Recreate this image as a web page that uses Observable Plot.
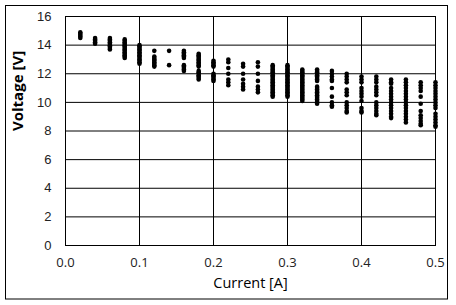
<!DOCTYPE html>
<html>
<head>
<meta charset="utf-8">
<script src="https://cdn.jsdelivr.net/npm/d3@7"></script>
<script src="https://cdn.jsdelivr.net/npm/@observablehq/plot@0.6"></script>
<style>
  html, body { margin: 0; padding: 0; background: #fff; }
  svg { display: block; }
</style>
</head>
<body>
<div id="chart"></div>
<script>
const currents = [0.02, 0.04, 0.06, 0.08, 0.10, 0.12, 0.14, 0.16, 0.18, 0.20, 0.22, 0.24, 0.26,
                  0.28, 0.30, 0.32, 0.34, 0.36, 0.38, 0.40, 0.42, 0.44, 0.46, 0.48, 0.50];
const voltages = [
  [14.9, 14.8, 14.7, 14.6, 14.5],
  [14.5, 14.4, 14.3, 14.2, 14.1],
  [14.5, 14.4, 14.3, 14.2, 14.1, 14.0, 13.9, 13.8, 13.7],
  [14.4, 14.3, 14.2, 14.1, 14.0, 13.9, 13.8, 13.7, 13.6, 13.5, 13.4, 13.3, 13.2, 13.1],
  [14.0, 13.9, 13.8, 13.7, 13.6, 13.5, 13.4, 13.3, 13.2, 13.1, 13.0, 12.9, 12.8, 12.7],
  [13.6, 13.2, 13.1, 13.0, 12.9, 12.8, 12.7, 12.6, 12.5],
  [13.6, 12.6],
  [13.6, 13.5, 13.4, 13.3, 13.2, 13.1, 12.6, 12.5, 12.4, 12.3, 12.2],
  [13.4, 13.3, 13.2, 13.1, 13.0, 12.9, 12.8, 12.7, 12.6, 12.5, 12.2, 12.1, 12.0, 11.9, 11.8, 11.7, 11.6],
  [12.9, 12.8, 12.7, 12.6, 12.5, 12.0, 11.9, 11.8, 11.7, 11.6, 11.5],
  [13.0, 12.8, 12.4, 12.0, 11.6, 11.4, 11.2],
  [12.7, 12.5, 12.0, 11.6, 11.3, 11.1, 10.9],
  [12.8, 12.5, 12.0, 11.5, 11.1, 10.9, 10.7],
  [12.6, 12.5, 12.4, 12.3, 12.2, 12.1, 12.0, 11.9, 11.8, 11.7, 11.6, 11.5, 11.4, 11.3, 11.2, 11.1, 11.0, 10.9, 10.8, 10.7, 10.6, 10.5, 10.4],
  [12.6, 12.5, 12.4, 12.3, 12.2, 12.1, 12.0, 11.9, 11.8, 11.7, 11.6, 11.5, 11.4, 11.3, 11.2, 11.1, 11.0, 10.9, 10.8, 10.7, 10.6, 10.5, 10.4],
  [12.3, 12.2, 12.1, 12.0, 11.9, 11.8, 11.7, 11.6, 11.5, 11.4, 11.3, 11.2, 11.1, 11.0, 10.9, 10.8, 10.7, 10.6, 10.5, 10.4, 10.3, 10.2, 10.1],
  [12.3, 12.2, 12.1, 12.0, 11.9, 11.8, 11.7, 11.6, 11.5, 11.1, 11.0, 10.9, 10.8, 10.7, 10.6, 10.5, 10.4, 10.3, 10.2, 10.1, 10.0, 9.9],
  [12.2, 12.0, 11.8, 11.6, 11.5, 11.0, 10.4, 10.0, 9.8, 9.7],
  [12.0, 11.8, 11.6, 11.4, 10.9, 10.7, 10.5, 10.0, 9.8, 9.6, 9.4, 9.3],
  [11.8, 11.6, 11.4, 11.0, 10.8, 10.6, 10.4, 10.1, 9.6, 9.4, 9.3],
  [11.8, 11.6, 11.4, 11.1, 10.9, 10.7, 10.5, 10.0, 9.8, 9.6, 9.4, 9.2, 9.1],
  [11.6, 11.4, 11.3, 11.0, 10.8, 10.6, 10.4, 10.2, 10.0, 9.8, 9.6, 9.4, 9.2, 9.0, 8.9],
  [11.6, 11.4, 11.2, 11.0, 10.8, 10.6, 10.4, 10.2, 10.0, 9.8, 9.6, 9.4, 9.2, 9.0, 8.8, 8.6],
  [11.4, 11.2, 11.0, 10.8, 10.4, 9.9, 9.4, 9.1, 8.9, 8.7, 8.5, 8.4],
  [11.4, 11.2, 11.0, 10.8, 10.6, 10.4, 10.2, 10.0, 9.8, 9.6, 9.2, 9.0, 8.8, 8.6, 8.4, 8.3]
];
const xTicks = [0, 0.1, 0.2, 0.3, 0.4, 0.5];
const yTicks = [0, 2, 4, 6, 8, 10, 12, 14, 16];
const xTitle = "Current [A]";
const yTitle = "Voltage [V]";

const points = currents.flatMap((c, i) => voltages[i].map(v => ({current: c, voltage: v})));

const chart = Plot.plot({
  width: 456,
  height: 305,
  marginLeft: 65,
  marginRight: 21,
  marginTop: 16,
  marginBottom: 60,
  style: {background: "white", color: "black"},
  x: {domain: [0, 0.5]},
  y: {domain: [0, 16]},
  marks: [
    Plot.gridY(yTicks, {stroke: "black", strokeOpacity: 1, strokeWidth: 1}),
    Plot.gridX(xTicks, {stroke: "black", strokeOpacity: 1, strokeWidth: 1}),
    Plot.frame({stroke: "black", strokeWidth: 1}),
    Plot.axisY(yTicks, {tickSize: 0, tickPadding: 14, label: null, fontSize: 13,
      fontFamily: "Liberation Sans, Arial, sans-serif", fill: "#222"}),
    Plot.axisX(xTicks, {tickSize: 0, tickPadding: 12, label: null, tickFormat: d3.format(".1f"),
      fontSize: 13, letterSpacing: 0.8, fontFamily: "Open Sans, sans-serif", fill: "#222"}),
    Plot.dot(points, {x: "current", y: "voltage", r: 2.3, fill: "black", stroke: null}),
    Plot.text([xTitle], {frameAnchor: "bottom", dy: 42, text: d => d, fontSize: 14.5,
      fontFamily: "Open Sans, sans-serif", fill: "black"}),
    Plot.text([yTitle], {frameAnchor: "left", dx: -47, rotate: -90, text: d => d, fontSize: 15,
      fontWeight: "bold", fontFamily: "Open Sans, sans-serif", fill: "black"})
  ]
});

d3.select(chart).insert("rect", ":first-child")
  .attr("x", 5.5).attr("y", 5.5).attr("width", 442).attr("height", 293.5)
  .attr("fill", "white").attr("stroke", "black").attr("stroke-width", 1);

document.getElementById("chart").appendChild(chart);
</script>
</body>
</html>
